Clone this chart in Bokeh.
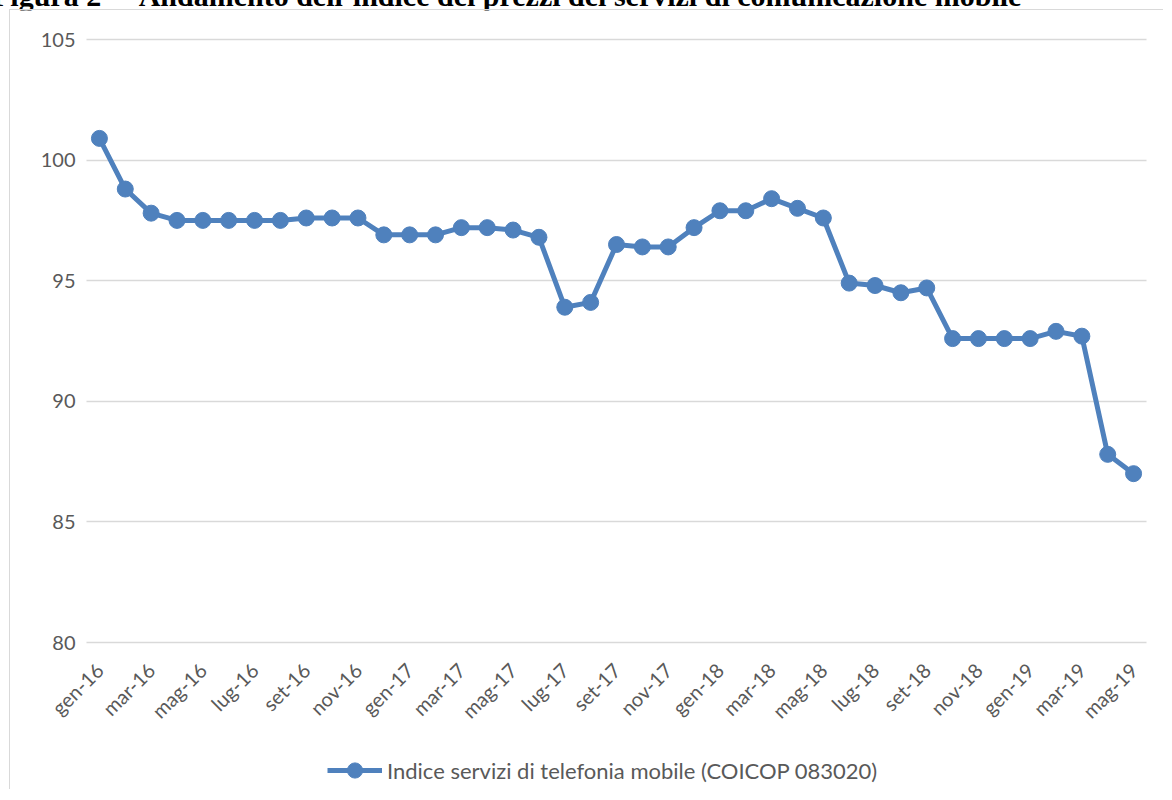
import math
from bokeh.plotting import figure
from bokeh.models import Range1d, FixedTicker, Legend, LegendItem, Div
from bokeh.layouts import column
from bokeh.embed import file_html
from bokeh.resources import INLINE

months = ["gen", "feb", "mar", "apr", "mag", "giu",
          "lug", "ago", "set", "ott", "nov", "dic"]
years = ["16", "17", "18", "19"]
categories = [f"{m}-{y}" for y in years for m in months][:41]

values = [100.9, 98.8, 97.8, 97.5, 97.5, 97.5, 97.5, 97.5, 97.6, 97.6, 97.6, 96.9,
          96.9, 96.9, 97.2, 97.2, 97.1, 96.8, 93.9, 94.1, 96.5, 96.4, 96.4, 97.2,
          97.9, 97.9, 98.4, 98.0, 97.6, 94.9, 94.8, 94.5, 94.7, 92.6, 92.6, 92.6,
          92.6, 92.9, 92.7, 87.8, 87.0]

y_ticks = [80, 85, 90, 95, 100, 105]
series_label = "Indice servizi di telefonia mobile (COICOP 083020)"
title_text = "Figura 2 \u2013\u00a0\u00a0Andamento dell\u2019indice dei prezzi dei servizi di comunicazione mobile"

BLUE = "#4F81BD"
GRAY_TXT = "#595959"
GRID = "#D9D9D9"
FONT = "Lato"

n = len(categories)
xs = list(range(n))

# geometry: canvas size and the plot-area box inside it (canvas px)
W, H = 1154, 780
AREA_TOP, AREA_BOTTOM = 29, 632      # canvas px of 105 and of 80
AREA_LEFT, AREA_RIGHT = 76, 1136     # canvas px of the category band
y_min, y_max = y_ticks[0], y_ticks[-1]
px_per_unit = (AREA_BOTTOM - AREA_TOP) / (y_max - y_min)
y_end = y_max + AREA_TOP / px_per_unit
y_start = y_min - (H - AREA_BOTTOM) / px_per_unit
px_per_cat = (AREA_RIGHT - AREA_LEFT) / n
x_lo, x_hi = -0.5, n - 0.5
x_start = x_lo - AREA_LEFT / px_per_cat
x_end = x_hi + (W - AREA_RIGHT) / px_per_cat

p = figure(width=W, height=H, output_backend="svg", toolbar_location=None,
           x_range=Range1d(x_start, x_end), y_range=Range1d(y_start, y_end),
           min_border_left=0, min_border_right=0, min_border_top=0,
           min_border_bottom=0, background_fill_color="white",
           border_fill_color="white")
p.margin = (2, 0, 0, 9)
p.styles = {"border-top": "1px solid #D9D9D9", "border-left": "1px solid #D9D9D9"}
p.outline_line_color = None

p.xgrid.visible = False
grid_ok = True
try:
    p.ygrid.cross_bounds = (x_lo, x_hi)
except Exception:
    grid_ok = False
if grid_ok:
    p.ygrid.grid_line_color = GRID
    p.ygrid.grid_line_width = 1.5
    p.ygrid.ticker = FixedTicker(ticks=y_ticks)
else:
    p.ygrid.visible = False
    p.segment(x0=[x_lo] * len(y_ticks), x1=[x_hi] * len(y_ticks),
              y0=y_ticks, y1=y_ticks, line_color=GRID, line_width=1.5)

line = p.line(xs, values, line_color=BLUE, line_width=5)
dots = p.scatter(xs, values, size=16, fill_color=BLUE, line_color=BLUE)

p.yaxis.ticker = FixedTicker(ticks=y_ticks)
p.yaxis.fixed_location = x_lo
p.yaxis.axis_line_color = None
p.yaxis.major_tick_line_color = None
p.yaxis.minor_tick_line_color = None
p.yaxis.major_label_standoff = 5
p.yaxis.major_label_text_font = FONT
p.yaxis.major_label_text_font_size = "20px"
p.yaxis.major_label_text_color = GRAY_TXT

even = [i for i in xs if i % 2 == 0]
p.xaxis.ticker = FixedTicker(ticks=even)
p.xaxis.major_label_overrides = {i: categories[i] for i in even}
p.xaxis.major_label_orientation = math.pi / 4
p.xaxis.fixed_location = y_min
p.xaxis.axis_line_color = None
p.xaxis.major_tick_line_color = None
p.xaxis.minor_tick_line_color = None
p.xaxis.major_label_standoff = 18
p.xaxis.major_label_text_font = FONT
p.xaxis.major_label_text_font_size = "20px"
p.xaxis.major_label_text_color = GRAY_TXT

legend = Legend(items=[LegendItem(label=series_label, renderers=[line, dots])],
                location=(317, 1), orientation="horizontal",
                border_line_color=None, background_fill_alpha=0,
                padding=0, margin=0, glyph_width=55, glyph_height=38,
                label_height=20, label_standoff=5,
                label_text_font=FONT, label_text_font_size="22px",
                label_text_color=GRAY_TXT)
p.add_layout(legend, "center")

title = Div(text=title_text, width=1164, height=22, margin=(-15, 0, 0, -8),
            styles={"font-family": "Liberation Serif", "font-weight": "bold",
                    "font-size": "30px", "line-height": "22px",
                    "white-space": "nowrap", "color": "black"})

layout = column(title, p)
open("out.html", "w").write(file_html(layout, INLINE))
